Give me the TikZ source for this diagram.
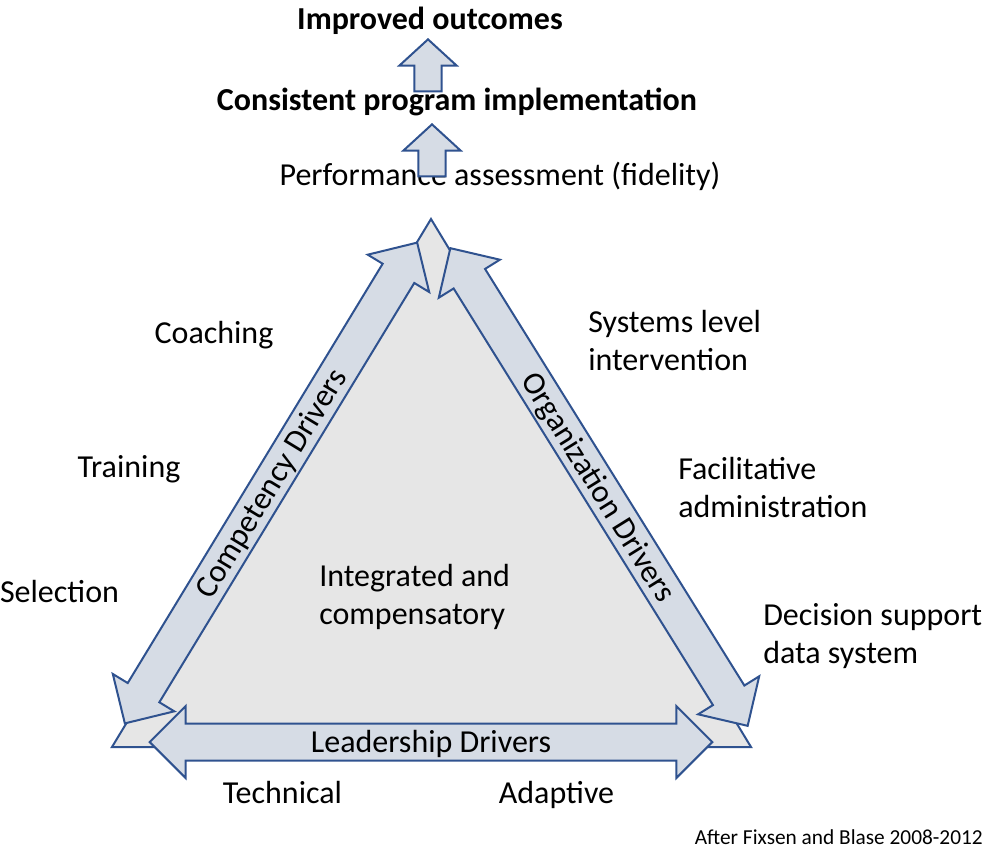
\documentclass[tikz,border=0pt]{standalone}
\usepackage{fontspec}
\setmainfont{Carlito}
\usepackage{tikz}
\usetikzlibrary{positioning,shapes.arrows}
\definecolor{drvFill}{HTML}{D6DCE5}
\definecolor{drvLine}{HTML}{2F528F}
\definecolor{coreFill}{HTML}{E6E6E6}
\newcommand{\bigtxt}{\fontsize{24}{28.5}\selectfont}
\newcommand{\smalltxt}{\fontsize{16}{19}\selectfont}
\tikzstyle{drvArrow}=[double arrow, double arrow head extend=13.1pt, minimum height=422pt, minimum width=52.5pt, inner sep=0pt, text height=21pt, text depth=5.25pt, fill=drvFill, draw=drvLine, line width=1.5pt]
\tikzstyle{upArrow}=[single arrow, single arrow head extend=11.25pt, single arrow tip angle=95, minimum height=39pt, minimum width=41.25pt, inner xsep=0pt, inner ysep=9.4pt, rotate=90, anchor=tip, fill=drvFill, draw=drvLine, line width=1.5pt]
\tikzstyle{core}=[fill=coreFill, draw=drvLine, line width=1.5pt]
\tikzstyle{txt}=[inner sep=0pt, anchor=base]
\tikzstyle{txtL}=[inner sep=0pt, anchor=base west, align=left]

\begin{document}
\begin{tikzpicture}[x=0.75pt, y=-0.75pt, font=\bigtxt]
    \useasboundingbox (0, 0) rectangle (996, 850);

    % Core triangle
    \coordinate (Apex) at (431, 219);
    \coordinate (BotRight) at (751, 747);
    \coordinate (BotLeft) at (112, 747);
    \draw [style=core] (Apex) -- (BotRight) -- (BotLeft) -- cycle;

    % Drivers
    \node [style=drvArrow, rotate=58.7] (Competency) at (271, 483) {Competency Drivers};
    \node [style=drvArrow, rotate=-58.1] (Organization) at (599, 487) {Organization Drivers};
    \node [style=drvArrow] (Leadership) at (431, 742) {Leadership Drivers};
    \node [style=txtL] (Integrated) at (319, 624) {Integrated and\\compensatory};

    % Above
    \node [style=txt] (Fidelity) at (500, 185) {Performance assessment (fidelity)};
    \node [style=upArrow] (UpOne) at (432, 123) {};
    \node [style=txt, font=\bigtxt\bfseries] (Consistent) at (457, 110) {Consistent program implementation};
    \node [style=upArrow] (UpTwo) at (428, 38) {};
    \node [style=txt, font=\bigtxt\bfseries] (Outcomes) at (430, 29) {Improved outcomes};

    % Competency
    \node [style=txt] (Coaching) at (214, 343) {Coaching};
    \node [style=txt] (Training) at (129, 477) {Training};
    \node [style=txt] (Selection) at (59.5, 602) {Selection};

    % Organization
    \node [style=txtL] (Systems) at (588, 370) {Systems level\\intervention};
    \node [style=txtL] (Facilitative) at (678, 517) {Facilitative\\administration};
    \node [style=txtL] (Decision) at (763, 663) {Decision support\\data system};

    % Leadership
    \node [style=txt] (Technical) at (282.5, 803) {Technical};
    \node [style=txt] (Adaptive) at (556.5, 803) {Adaptive};

    \node [style=txt, anchor=base east, font=\smalltxt] (Source) at (983, 844) {After Fixsen and Blase 2008-2012};
\end{tikzpicture}
\end{document}
